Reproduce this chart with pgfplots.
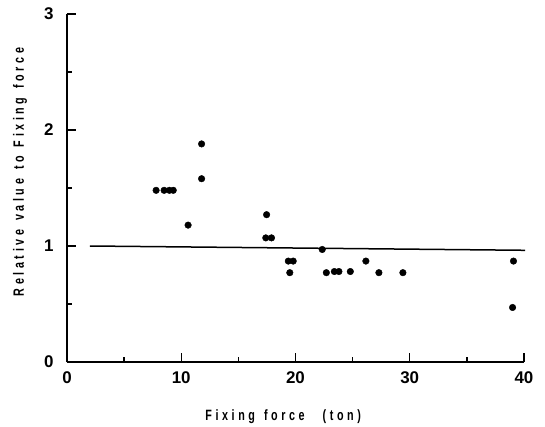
\documentclass[border=0pt]{standalone}
\usepackage{fontspec}
\setmainfont{Liberation Sans}
\newfontfamily\labfont[FakeStretch=0.72, LetterSpace=24]{Liberation Sans Bold}
\usepackage{pgfplots}
\pgfplotsset{compat=1.18}

\begin{document}
\begin{tikzpicture}
\useasboundingbox (-67bp,-65bp) rectangle (478bp,362bp);
\begin{axis}[
  scale only axis,
  width=457bp, height=348bp,
  xmin=0, xmax=40, ymin=0, ymax=3,
  axis lines=left,
  axis line style={-, line width=1.7bp},
  xtick={0,10,20,30,40},
  ytick={0,1,2,3},
  minor xtick={5,15,25,35},
  minor ytick={0.5,1.5,2.5},
  tick align=inside,
  major tick length=9bp,
  minor tick length=5bp,
  every tick/.style={black, line width=1.3bp},
  /pgf/number format/assume math mode=true,
  tick label style={font=\bfseries\fontsize{17}{17}\selectfont},
  xticklabel style={yshift=-6bp},
  yticklabel style={xshift=-10bp},
  xlabel={Fixing\hspace{9bp}force\hspace{18bp}(ton)},
  ylabel={Relative\hspace{9bp}value\hspace{9bp}to\hspace{9bp}Fixing\hspace{9bp}force},
  label style={font=\labfont\fontsize{15}{15}\selectfont},
  xlabel style={at={(axis description cs:0.473,-0.158)}, anchor=center},
  ylabel style={at={(axis description cs:-0.103,0.546)}, anchor=center},
  clip=false,
]
\addplot[only marks, mark=*, mark size=3.3bp, black] coordinates {
  (7.8,1.48) (8.5,1.48) (8.96,1.48) (9.3,1.48)
  (10.6,1.18) (11.78,1.88) (11.78,1.58)
  (17.47,1.27) (17.4,1.07) (17.9,1.07)
  (19.37,0.87) (19.8,0.87) (19.5,0.77)
  (22.34,0.97) (22.7,0.77) (23.4,0.78) (23.8,0.78) (24.8,0.78)
  (26.16,0.87) (27.3,0.77) (29.4,0.77)
  (39.08,0.87) (39.0,0.47)
};
\addplot[black, line width=1.5bp] coordinates {(2,1.0) (40.1,0.963)};
\end{axis}
\end{tikzpicture}
\end{document}
